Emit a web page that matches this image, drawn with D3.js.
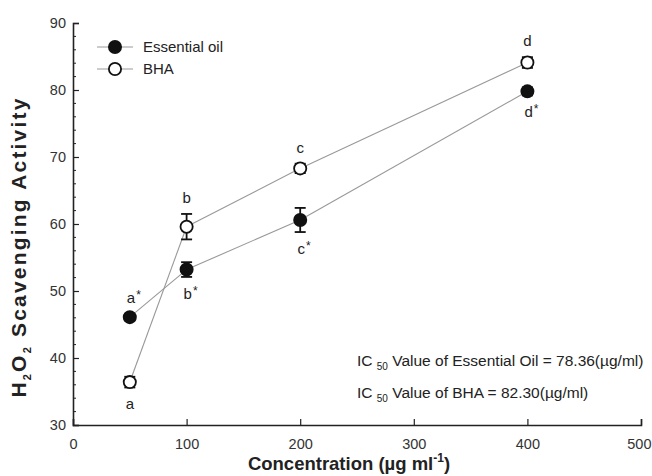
<!DOCTYPE html>
<html>
<head>
<meta charset="utf-8">
<script src="https://cdn.jsdelivr.net/npm/d3@7"></script>
<style>
  body { margin: 0; background: #fff; }
  svg { font-family: "Liberation Sans", Arial, sans-serif; }
  .tick text { fill: #333; font-size: 14.5px; }
</style>
</head>
<body>
<div id="chart"></div>
<script>
// ──────────────  data

const concentrations = [50, 100, 200, 400];
const oilMean  = [46.1, 53.2, 60.6, 79.8];
const oilErr   = [0.5, 1.1, 1.8, 0.6];
const bhaMean  = [36.4, 59.6, 68.3, 84.1];
const bhaErr   = [0.8, 1.9, 0.7, 0.8];
const oilMarks = ['a*', 'b*', 'c*', 'd*'];   // drawn below (except first)
const bhaMarks = ['a', 'b', 'c', 'd'];       // drawn above (except first)
const xTicks = [0, 100, 200, 300, 400, 500];
const yTicks = [30, 40, 50, 60, 70, 80, 90];
const icLines = [
  { pre: 'IC ', sub: '50', post: ' Value of Essential Oil = 78.36(\u00b5g/ml)' },
  { pre: 'IC ', sub: '50', post: ' Value of BHA = 82.30(\u00b5g/ml)' },
];

// ──────────────  layout

const W = 652, H = 476;
const M = { left: 73, right: 11, top: 23, bottom: 51 };

const svg = d3.select('#chart').append('svg')
  .attr('width', W).attr('height', H);

const x = d3.scaleLinear().domain([0, 500]).range([M.left, W - M.right]);
const y = d3.scaleLinear().domain([30, 90]).range([H - M.bottom, M.top]);

// axes — ticks point inward
const xAxis = svg.append('g')
  .attr('transform', `translate(0,${y(30)})`)
  .call(d3.axisTop(x).tickValues(xTicks).tickSize(6).tickFormat(d3.format('d')));
xAxis.select('.domain').attr('stroke', '#222').attr('stroke-width', 1.6);
xAxis.selectAll('.tick line').attr('stroke', '#222').attr('stroke-width', 1.2);
xAxis.selectAll('.tick text').attr('y', 14).attr('dy', '0.71em');
// keep the last label inside the window
xAxis.selectAll('.tick text').filter(d => d === 500)
  .attr('text-anchor', 'end').attr('x', 10);

const yAxis = svg.append('g')
  .attr('transform', `translate(${x(0)},0)`)
  .call(d3.axisRight(y).tickValues(yTicks).tickSize(6));
yAxis.select('.domain').attr('stroke', '#222').attr('stroke-width', 1.6);
yAxis.selectAll('.tick line').attr('stroke', '#222').attr('stroke-width', 1.2);
yAxis.selectAll('.tick text').attr('x', -7).attr('text-anchor', 'end');

// minor y ticks every 2
const minor = d3.range(32, 90, 2).filter(v => v % 10 !== 0);
svg.append('g').selectAll('line').data(minor).join('line')
  .attr('x1', x(0)).attr('x2', x(0) + 3)
  .attr('y1', d => y(d)).attr('y2', d => y(d))
  .attr('stroke', '#222').attr('stroke-width', 1);

// axis titles
svg.append('text')
  .attr('x', (x(0) + x(500)) / 2 - 8).attr('y', 470)
  .attr('text-anchor', 'middle')
  .attr('font-size', 18.5).attr('font-weight', 'bold').attr('fill', '#222')
  .html('Concentration (\u00b5g ml<tspan dy="-8" font-size="12">-1</tspan><tspan dy="8">)</tspan>');

svg.append('text')
  .attr('transform', `translate(26,${247}) rotate(-90)`)
  .attr('text-anchor', 'middle')
  .attr('font-size', 21).attr('font-weight', 'bold').attr('fill', '#222')
  .attr('letter-spacing', 2.2)
  .html('H<tspan dy="5" font-size="11">2</tspan><tspan dy="-5">O</tspan><tspan dy="5" font-size="11">2</tspan><tspan dy="-5"> Scavenging Activity</tspan>');

// ──────────────  series

const R = 7;

function trimmedSegments(xs, ys) {
  const pts = xs.map((v, i) => [x(v), y(ys[i])]);
  return d3.pairs(pts).map(([a, b]) => {
    const dx = b[0] - a[0], dy = b[1] - a[1];
    const len = Math.hypot(dx, dy);
    const ux = dx / len, uy = dy / len;
    return [a[0] + ux * R, a[1] + uy * R, b[0] - ux * R, b[1] - uy * R];
  });
}

function drawSeries(means, errs, filled) {
  const g = svg.append('g');
  g.selectAll('line.conn').data(trimmedSegments(concentrations, means)).join('line')
    .attr('class', 'conn')
    .attr('x1', d => d[0]).attr('y1', d => d[1])
    .attr('x2', d => d[2]).attr('y2', d => d[3])
    .attr('stroke', '#999').attr('stroke-width', 1.1);

  const pts = concentrations.map((c, i) => ({ c, m: means[i], e: errs[i] }));
  const eb = g.selectAll('g.err').data(pts).join('g').attr('class', 'err')
    .attr('stroke', '#111').attr('stroke-width', 1.8);
  eb.append('line')
    .attr('x1', d => x(d.c)).attr('x2', d => x(d.c))
    .attr('y1', d => y(d.m + d.e)).attr('y2', d => y(d.m - d.e));
  eb.append('line')
    .attr('x1', d => x(d.c) - 5.5).attr('x2', d => x(d.c) + 5.5)
    .attr('y1', d => y(d.m + d.e)).attr('y2', d => y(d.m + d.e));
  eb.append('line')
    .attr('x1', d => x(d.c) - 5.5).attr('x2', d => x(d.c) + 5.5)
    .attr('y1', d => y(d.m - d.e)).attr('y2', d => y(d.m - d.e));

  g.selectAll('circle').data(pts).join('circle')
    .attr('cx', d => x(d.c)).attr('cy', d => y(d.m)).attr('r', R - 0.9)
    .attr('fill', filled ? '#111' : '#fff')
    .attr('stroke', '#111').attr('stroke-width', 1.8);
}

drawSeries(oilMean, oilErr, true);
drawSeries(bhaMean, bhaErr, false);

// ──────────────  significance letters

function letter(xv, yv, txt, off) {
  const base = txt.replace('*', '');
  const star = txt.includes('*');
  const t = svg.append('text')
    .attr('x', x(xv) + (star ? 4 : 0)).attr('y', y(yv) + off)
    .attr('text-anchor', 'middle').attr('font-size', 15).attr('fill', '#222')
    .text(base);
  if (star) t.append('tspan').attr('dx', 1).attr('dy', -4).attr('font-size', 12).text('*');
}

concentrations.forEach((c, i) => {
  // essential oil: first above, others below
  const oilOff = i === 0 ? -(R + oilErr[i] * 6.7 + 4) : (R + oilErr[i] * 6.7 + 15);
  letter(c, oilMean[i], oilMarks[i], oilOff);
  // BHA: first below, others above
  const bhaOff = i === 0 ? (R + bhaErr[i] * 6.7 + 15) : -(R + bhaErr[i] * 6.7 + 4);
  letter(c, bhaMean[i], bhaMarks[i], bhaOff);
});

// ──────────────  legend

const legend = svg.append('g').attr('transform', 'translate(97,47)');
[{ name: 'Essential oil', filled: true }, { name: 'BHA', filled: false }].forEach((s, i) => {
  const row = legend.append('g').attr('transform', `translate(0,${i * 22})`);
  row.append('line').attr('x1', 0).attr('x2', 36).attr('stroke', '#999').attr('stroke-width', 1.1);
  row.append('circle').attr('cx', 18).attr('r', R - 0.9)
    .attr('fill', s.filled ? '#111' : '#fff').attr('stroke', '#111').attr('stroke-width', 1.8);
  row.append('text').attr('x', 46).attr('dy', '0.35em')
    .attr('font-size', 15).attr('fill', '#222').text(s.name);
});

// ──────────────  IC50 notes

icLines.forEach((l, i) => {
  const t = svg.append('text')
    .attr('x', 357).attr('y', 366 + i * 32)
    .attr('font-size', 15.5).attr('fill', '#222');
  t.append('tspan').text(l.pre);
  t.append('tspan').attr('dy', 4).attr('font-size', 10).text(l.sub);
  t.append('tspan').attr('dy', -4).text(l.post);
});
</script>
</body>
</html>
